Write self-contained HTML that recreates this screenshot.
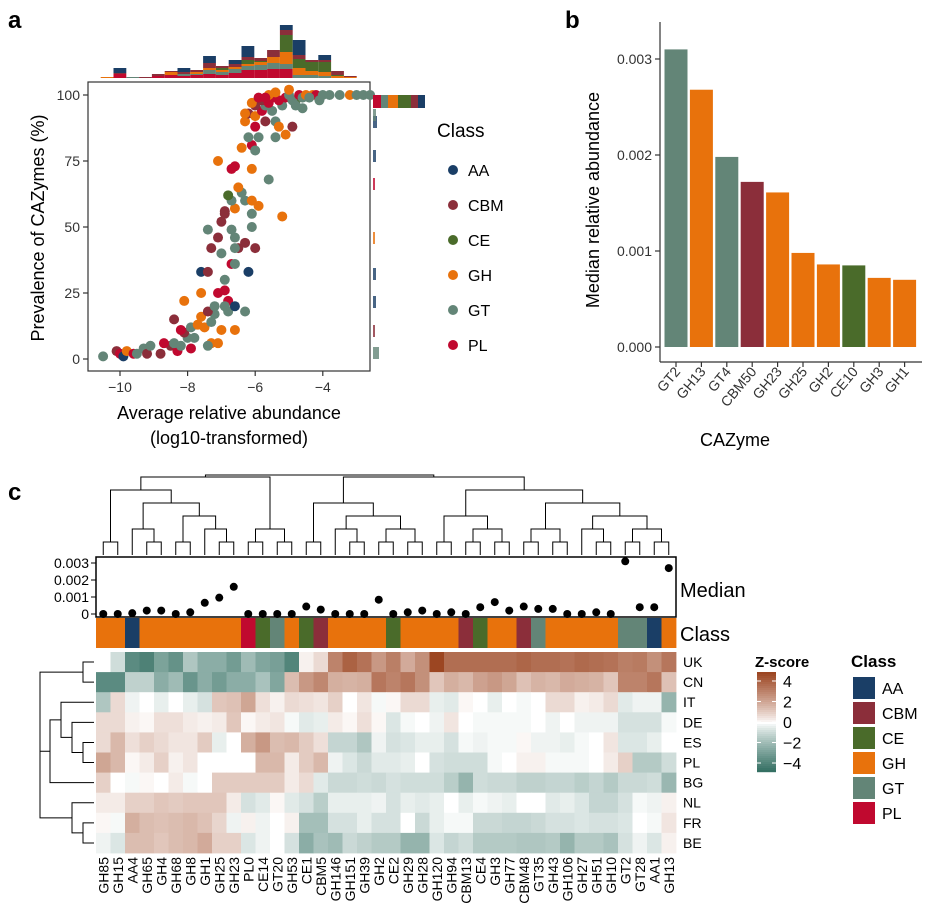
<!DOCTYPE html>
<html><head><meta charset="utf-8"><style>
body{margin:0;background:#fff}
svg{font-family:"Liberation Sans",Arial,sans-serif;display:block}
</style></head><body>
<svg id="fig" width="929" height="912" viewBox="0 0 929 912"></svg>
<script>
// ---------- data ----------
const classes=["AA","CBM","CE","GH","GT","PL"];
const classColors={AA:"#1a3e66",CBM:"#8b2e3a",CE:"#4a6b2a",GH:"#e8720c",GT:"#638577",PL:"#c0092f"};
const scatterX=[-10.5,-10.1,-10,-9.9,-9.8,-9.6,-9.5,-9.3,-9.2,-9.1,-8.8,-8.5,-8.3,-8.4,-8.2,-8,-7.8,-8.1,-7.9,-7.7,-7.5,-7.3,-7.6,-7.2,-7.0,-6.8,-7.4,-8.4,-8.2,-7.9,-8.7,-7.3,-7.1,-7.4,
-8.1,-7.6,-7.6,-7.4,-7.1,-6.9,-6.8,-6.9,-7.2,-6.6,-6.3,-6.6,-6.9,-6.7,-7.0,-6.6,-6.2,-6.6,-6.3,-6.5,-6.0,-7.3,-6.6,-7.4,-7.0,-6.7,-6.1,-7.1,-6.9,-6.9,-6.6,-6.1,-6.3,-6.7,-6.4,-6.8,-6.5,-7.1,-6.6,-6.7,-6.1,-5.6,-5.2,-6.1,-5.9,
-6.4,-6.1,-6.0,-6.2,-5.9,-6.0,-6.3,-6.2,-6.3,-6.0,-5.7,-5.8,-5.5,-5.4,-5.3,-4.9,-5.4,-5.1,-6.0,-5.7,-5.2,-4.8,-6.1,-5.8,-5.6,-5.5,-5.3,-5.1,-5.0,-4.9,-4.7,-4.6,-4.5,-4.3,-4.2,-4,-3.8,-3.5,-3.2,-3.0,-2.8,-2.6,-5.6,-5.4,-5.9,-5.7,-4.4,-4.1,-4.8,-4.6,-5.0];
const scatterY=[1,3,2,1,3,2,2,4,2,5,2,5,3,6,5,8,8,10,12,13,12,14,16,17,11,18,18,15,11,4,6,6,6,5,
22,25,33,33,25,26,22,20,20,20,18,11,30,36,40,36,33,46,44,42,42,42,42,49,52,49,50,46,56,55,57,55,60,60,63,62,65,75,73,72,72,68,54,60,58,
80,81,79,84,84,88,90,93,93,92,90,94,94,90,88,88,84,85,96,96,96,98,97,98,97,99,98,99,100,98,100,99,100,100,100,100,100,100,100,100,100,100,100,101,99,99,99,98,96,95,102];
const scatterClass=["GT","CBM","PL","AA","GH","PL","GT","GT","CBM","GT","CBM","CBM","PL","GT","GT","GT","GT","CBM","GT","GH","GH","GT","GH","GT","GH","GT","CBM","CBM","PL","PL","PL","GH","GH","GT",
"GH","GH","AA","CBM","PL","PL","PL","GT","GT","AA","GT","GH","GT","PL","GT","GT","AA","GT","CBM","CBM","CBM","CBM","GT","GT","CBM","GT","GT","CBM","CBM","CBM","GH","GT","GT","GT","GT","CE","GH","GH","PL","PL","GH","GT","GH","GH","GH",
"GH","PL","GT","GT","GT","PL","GH","CBM","GH","GH","CBM","PL","GT","GT","GH","CBM","GT","GH","CBM","GT","GT","CE","GH","CBM","PL","PL","PL","PL","GT","GT","PL","GT","GH","GH","PL","GT","GT","GT","GH","GT","GT","GT","GH","GH","PL","PL","GT","GT","GT","GT","GH"];
// top marginal histogram (stack order PL,GT,GH,CE,CBM,AA)
const histPL=[0,12,0,0,6,9,6,9,12,9,15,24,24,27,27,0,0,0,0,0];
const histGT=[0,0,3,0,0,0,6,3,12,9,12,12,15,18,15,9,9,6,0,0];
const histGH=[3,0,0,0,0,9,0,6,6,6,6,6,9,18,36,21,12,12,6,3];
const histCE=[0,0,0,0,0,0,0,0,0,6,0,12,3,0,51,27,27,30,3,0];
const histCBM=[0,3,0,3,6,3,6,6,15,6,9,9,9,21,15,12,6,6,12,3];
const histAA=[0,15,0,0,0,0,12,0,21,0,12,33,0,0,15,45,0,15,0,0];
// panel b
const barCats=["GT2","GH13","GT4","CBM50","GH23","GH25","GH2","CE10","GH3","GH1"];
const barVals=[0.00310,0.00268,0.00198,0.00172,0.00161,0.00098,0.00086,0.00085,0.00072,0.00070];
const barClass=["GT","GH","GT","CBM","GH","GH","GH","CE","GH","GH"];
const barTicks=[0,0.001,0.002,0.003];
const barTickLabels=["0.000","0.001","0.002","0.003"];
// panel c
const heatCols=["GH85","GH15","AA4","GH65","GH4","GH68","GH8","GH1","GH25","GH23","PL0","CE14","GT20","GH53","CE1","CBM5","GH146","GH151","GH39","GH2","CE2","GH29","GH28","GH120","GH94","CBM13","CE4","GH3","GH77","CBM48","GT35","GH43","GH106","GH27","GH51","GH10","GT2","GT28","AA1","GH13"];
const heatRows=["UK","CN","IT","DE","ES","PL","BG","NL","FR","BE"];
const medianVals=[0,0,0.00005,0.0002,0.0002,0,0.0001,0.00066,0.00096,0.0016,0,0,0,0,0.00044,0.00026,0,0,0,0.00084,0,0.0001,0.0002,0,0.0001,0,0.0004,0.0007,0.0002,0.00044,0.0003,0.0003,0,0,0.0001,0,0.0031,0.0004,0.0004,0.0027];
const medianTicks=[0,0.001,0.002,0.003];
const zUK=[0,-0.7,-3,-3.3,-2.3,-2.8,-1.3,-2,-2,-2.5,-1.6,-2.2,-2.4,-3.2,0.2,0.6,2.5,3.3,2.9,2,2.6,1.6,2.2,4,3,3,3,3,3,3.2,3,3,2.9,3.1,3,2.9,2.6,2.7,2.2,2.8];
const zCN=[-3,-3,-1,-1,-2,-1.6,-2.7,-2,-2.5,-2,-2,-1.4,-2.2,1.2,2,2.4,1.5,1.4,1.5,2.8,2.5,2.8,2.2,1,1.5,1.3,1.8,2,1.7,1.1,1.4,1.3,1.6,1.5,1.4,1,2.5,2.5,2.8,1.1];
const zIT=[-1.3,0.6,-0.2,0,-0.3,0,-0.3,-0.6,1,1.1,1.7,0.5,0.2,0.6,0.5,0.4,0.8,0,0.4,-0.1,0.1,0.6,0.6,-0.3,-0.4,0.1,0,-0.3,0,-0.1,0,0.6,0.6,0.2,0.3,0.6,-0.4,-0.2,-0.2,-1.8];
const zDE=[0.6,0.6,0.2,0.1,0.5,0.5,0.3,0.2,0.3,1,0.1,0.3,0.4,-0.1,-0.4,-0.3,0.3,0.1,0.5,0.1,-0.5,-0.1,0,-0.2,0.4,0,-0.1,-0.1,-0.1,-0.1,0,-0.2,0,-0.2,-0.2,-0.2,-0.6,-0.6,-0.6,-0.1];
const zES=[0.6,1.3,0.5,0.8,0.6,0.4,0.4,0.9,-0.3,0,1.5,2,1.2,1.3,0.9,0.5,-0.9,-0.9,-1.3,-0.2,-0.6,-0.5,-0.3,-0.3,-0.6,-0.1,-0.2,-0.1,-0.1,0.1,-0.2,-0.2,-0.3,-0.1,0,0.4,-0.5,-0.5,-0.3,0];
const zPL=[1.7,1.3,0.1,0.3,0.8,0.2,0.4,0,0,0,0,1.3,1.3,0.3,0.9,1.3,-0.2,-0.5,-0.8,-0.4,-0.4,-0.3,0,-0.6,-0.7,-0.7,-0.7,-0.1,0,0.2,0.2,-0.1,-0.1,-0.1,0,0.3,0.8,-1.2,-1.2,-0.7];
const zBG=[0.8,0,-0.1,0.1,0,0.3,-0.1,0,0.9,0.9,0.9,0.9,0.9,0.3,0.6,-0.4,-0.8,-0.8,-0.7,-0.8,-0.6,-0.7,-0.7,-0.7,-1.1,-1.8,-0.7,-0.8,-0.8,-1,-1,-0.9,-0.9,-1.1,-0.9,-1.2,-0.8,-0.8,-0.7,-1.7];
const zNL=[0.3,0.3,0.8,0.8,1,0.9,1,1,1,0.3,-0.6,-0.4,0.1,-0.4,-0.6,-1.1,-0.3,-0.3,-0.3,-0.2,-0.6,-0.3,-0.4,-0.3,0,-0.3,-0.1,-0.2,-0.3,0,0,-0.4,-0.3,-0.5,-0.9,-0.9,-0.6,-0.1,-0.2,0.2];
const zFR=[0.1,-0.1,1.5,1.2,1.1,1.2,1.3,1.1,0.7,-0.2,0.2,-0.2,0,0.2,-1.5,-1.5,-0.6,-0.6,-0.3,-0.6,-0.6,0,-0.8,-0.3,-0.1,-0.1,-0.8,-0.8,-0.9,-0.9,-0.8,-0.6,-0.6,-0.5,-0.6,-0.6,-0.5,0,-0.1,0.4];
const zBE=[-0.2,-0.5,1.2,1.2,1,1.2,1.3,1.6,0.8,0.8,-0.5,-0.2,0,-0.6,-2,-1.4,-1.6,-0.8,-1,-1.2,-1.2,-1.8,-1.8,-0.5,-0.9,-0.7,-1.2,-1.2,-1.2,-1.3,-1.3,-1.2,-1.8,-1.2,-1.2,-1.4,-0.6,-0.2,-0.5,0.2];
const zRows=[zUK,zCN,zIT,zDE,zES,zPL,zBG,zNL,zFR,zBE];

// ---------- helpers ----------
const svg=document.getElementById('fig');
const NS="http://www.w3.org/2000/svg";
function mk(tag,attrs,parent,txt){const e=document.createElementNS(NS,tag);for(const k in attrs)e.setAttribute(k,attrs[k]);if(txt!==undefined)e.textContent=txt;(parent||svg).appendChild(e);return e;}
function grp(name){const g=mk('g',{});return g;}
function txt(parent,x,y,s,size,extra,name){const t=mk('text',Object.assign({x:x,y:y,'font-size':size,fill:'#000'},extra||{}),parent,s);return t;}

// panel letters
txt(svg,8,28,"a",24,{'font-weight':'bold'},'panel-a-letter');
txt(svg,565,28,"b",24,{'font-weight':'bold'},'panel-b-letter');
txt(svg,8,500,"c",24,{'font-weight':'bold'},'panel-c-letter');

// ---------- panel a ----------
const ax=v=>120+(v+10)*33.8, ay=v=>359-v*2.64;
const pa=grp('panel-a-scatter');
const frame=mk('rect',{x:88,y:82,width:282,height:289,fill:'none',stroke:'#333','stroke-width':1.2},pa);

[0,25,50,75,100].forEach(v=>{mk('line',{x1:83,x2:88,y1:ay(v),y2:ay(v),stroke:'#333','stroke-width':1.2},pa);
 txt(pa,80,ay(v)+5,String(v),14,{'text-anchor':'end',fill:'#333'},'y-tick-label');});
[-10,-8,-6,-4].forEach(v=>{mk('line',{x1:ax(v),x2:ax(v),y1:371,y2:376,stroke:'#333','stroke-width':1.2},pa);
 txt(pa,ax(v),392,String(v).replace('-','−'),14,{'text-anchor':'middle',fill:'#333'},'x-tick-label');});
const pts=grp('scatter-points');pa.appendChild(pts);
scatterX.forEach((x,i)=>{const c=mk('circle',{cx:ax(x),cy:ay(scatterY[i]),r:5,fill:classColors[scatterClass[i]]},pts);
 
 });
txt(svg,229,419,"Average relative abundance",18,{'text-anchor':'middle'},'x-axis-title');
txt(svg,229,444,"(log10-transformed)",18,{'text-anchor':'middle'},'x-axis-subtitle');
txt(svg,0,0,"Prevalence of CAZymes (%)",18,{'text-anchor':'middle',transform:'translate(44,228) rotate(-90)'},'y-axis-title');
// top histogram
const hg=grp('top-histogram');
const histStack=[["PL",histPL],["GT",histGT],["GH",histGH],["CE",histCE],["CBM",histCBM],["AA",histAA]];
for(let b=0;b<20;b++){let base=78;histStack.forEach(([cl,arr])=>{const h=arr[b]/3;if(h>0){const r=mk('rect',{x:100.7+b*12.8,y:base-h,width:12.8,height:h,fill:classColors[cl]},hg);
 base-=h;}});}
// right histogram
const rg=grp('right-histogram');
const rsegs=[["PL",8],["GT",7],["GH",10],["CE",13],["CBM",7],["AA",7]];let rx=373;
rsegs.forEach(([cl,w])=>{const r=mk('rect',{x:rx,y:95,width:w,height:13,fill:classColors[cl]},rg);rx+=w;});
[[116,4,"AA"],[150,3,"AA"],[178,2,"PL"],[268,3,"AA"],[296,3,"AA"],[325,2,"CBM"],[347,6,"GT"],[109,3,"GT"],[232,2,"GH"]].forEach(([y,w,cl])=>{const r=mk('rect',{x:373,y:y,width:w,height:12,fill:classColors[cl],opacity:0.8},rg);});
// legend a
const la=grp('class-legend-a');
txt(la,437,137,"Class",19,{},'legend-title');
classes.forEach((c,i)=>{const y=170+i*35;mk('circle',{cx:453,cy:y,r:5,fill:classColors[c]},la);txt(la,468,y+6,c,16,{},'legend-entry-'+c);});

// ---------- panel b ----------
const by=v=>347-v*96000, bx=i=>676+i*25.4;
const pb=grp('panel-b-bars');
mk('line',{x1:660,x2:660,y1:22,y2:362,stroke:'#333','stroke-width':1.2},pb);
mk('line',{x1:660,x2:922,y1:362,y2:362,stroke:'#333','stroke-width':1.2},pb);
barTicks.forEach((v,i)=>{mk('line',{x1:655,x2:660,y1:by(v),y2:by(v),stroke:'#333','stroke-width':1.2},pb);
 txt(pb,652,by(v)+5,barTickLabels[i],14,{'text-anchor':'end',fill:'#333'},'y-tick-label');});
barVals.forEach((v,i)=>{const r=mk('rect',{x:bx(i)-11.5,y:by(v),width:23,height:by(0)-by(v),fill:classColors[barClass[i]]},pb);
 
 mk('line',{x1:bx(i),x2:bx(i),y1:362,y2:367,stroke:'#333','stroke-width':1.2},pb);
 txt(pb,0,0,barCats[i],14,{'text-anchor':'end',fill:'#333',transform:`translate(${bx(i)+5},${372}) rotate(-50)`},'x-tick-label');});
txt(svg,735,446,"CAZyme",18,{'text-anchor':'middle'},'x-axis-title-b');
txt(svg,0,0,"Median relative abundance",18,{'text-anchor':'middle',transform:'translate(599,200) rotate(-90)'},'y-axis-title-b');

// ---------- panel c ----------
const cx0=96,cw=14.5,ry0=652,rh=20.1;
const hx=i=>cx0+i*cw;
const colTree=[[[[0,1],[[2,[3,4]],[[5,6],[7,[8,9]]]]],[[10,11],[12,13]]],[[[14,15],[[16,[17,18]],[[19,20],[21,22]]]],[[[23,24],[[25,26],[27,28]]],[[[29,30],[31,32]],[[33,[34,35]],[[36,37],[38,39]]]]]]];
const dg=grp('column-dendrogram');
function drawTop(n){if(typeof n==='number')return{x:hx(n)+cw/2,y:555,d:0};
 const a=drawTop(n[0]),b=drawTop(n[1]);const d=Math.max(a.d,b.d)+1;const y=d>=7?475:555-d*13;
 mk('path',{d:`M${a.x},${a.y}V${y}H${b.x}V${b.y}`,fill:'none',stroke:'#000','stroke-width':1},dg);return{x:(a.x+b.x)/2,y:y,d:d};}
drawTop(colTree);
const my=v=>614-v*17000;
const mg=grp('median-plot');
mk('rect',{x:cx0,y:557,width:580,height:60,fill:'none',stroke:'#000','stroke-width':1.5},mg);
medianTicks.forEach(v=>{mk('line',{x1:91,x2:96,y1:my(v),y2:my(v),stroke:'#000'},mg);txt(mg,89,my(v)+5,String(v),14,{'text-anchor':'end'},'median-tick-label');});
medianVals.forEach((v,i)=>{const c=mk('circle',{cx:hx(i)+cw/2,cy:my(v),r:4,fill:'#000'},mg);});
txt(svg,680,597,"Median",20,{},'median-label');
const cg=grp('class-bar');
heatCols.forEach((c,i)=>{const cl=c.match(/^[A-Z]+/)[0];const r=mk('rect',{x:hx(i),y:618,width:cw+0.4,height:30,fill:classColors[cl]},cg);});
txt(svg,680,641,"Class",20,{},'class-bar-label');
function zcol(v){v=Math.max(-4,Math.min(4,v));const lo=[46,107,94],hi=[156,70,34],w=[255,255,255];const t=Math.pow(Math.abs(v)/4,0.85);const e=v<0?lo:hi;
 return `rgb(${w.map((c,k)=>Math.round(c+(e[k]-c)*t)).join(',')})`;}
const hm=grp('heatmap');
zRows.forEach((row,r)=>{row.forEach((v,i)=>{const rc=mk('rect',{x:hx(i),y:ry0+r*rh,width:cw+0.4,height:rh+0.4,fill:zcol(v)},hm);
 });
 txt(hm,683,ry0+r*rh+15,heatRows[r],14,{},'row-label-'+heatRows[r]);});
heatCols.forEach((c,i)=>txt(hm,0,0,c,14,{'text-anchor':'end',transform:`translate(${hx(i)+cw/2+5},857) rotate(-90)`},'col-label-'+c));
const rowTree=[[0,1],[[[2,[3,[4,5]]],6],[7,[8,9]]]];
const rdg=grp('row-dendrogram');
function drawRow(n){if(typeof n==='number')return{y:ry0+n*rh+rh/2,x:94,d:0};
 const a=drawRow(n[0]),b=drawRow(n[1]);const d=Math.max(a.d,b.d)+1;const x=d>=5?40:94-d*11;
 mk('path',{d:`M${a.x},${a.y}H${x}V${b.y}H${b.x}`,fill:'none',stroke:'#000','stroke-width':1},rdg);return{y:(a.y+b.y)/2,x:x,d:d};}
drawRow(rowTree);
const zl=grp('zscore-legend');
txt(zl,755,667,"Z-score",15,{'font-weight':'bold'},'zscore-title');
for(let k=0;k<50;k++){const v=4-k*8/50;mk('rect',{x:757,y:672+k*2,width:19,height:2.2,fill:zcol(v)},zl);}
[4,2,0,-2,-4].forEach(v=>{const y=681+(4-v)*10.25;mk('line',{x1:757,x2:761,y1:y,y2:y,stroke:'#fff'},zl);mk('line',{x1:772,x2:776,y1:y,y2:y,stroke:'#fff'},zl);
 txt(zl,783,y+6,String(v).replace('-','−'),16,{},'zscore-tick');});
const lc=grp('class-legend-c');
txt(lc,851,667,"Class",17,{'font-weight':'bold'},'class-legend-title');
classes.forEach((c,i)=>{const y=677+i*25;mk('rect',{x:853,y:y,width:22,height:22,fill:classColors[c]},lc);txt(lc,882,y+17,c,16,{},'class-legend-'+c);});
</script>
</body></html>
